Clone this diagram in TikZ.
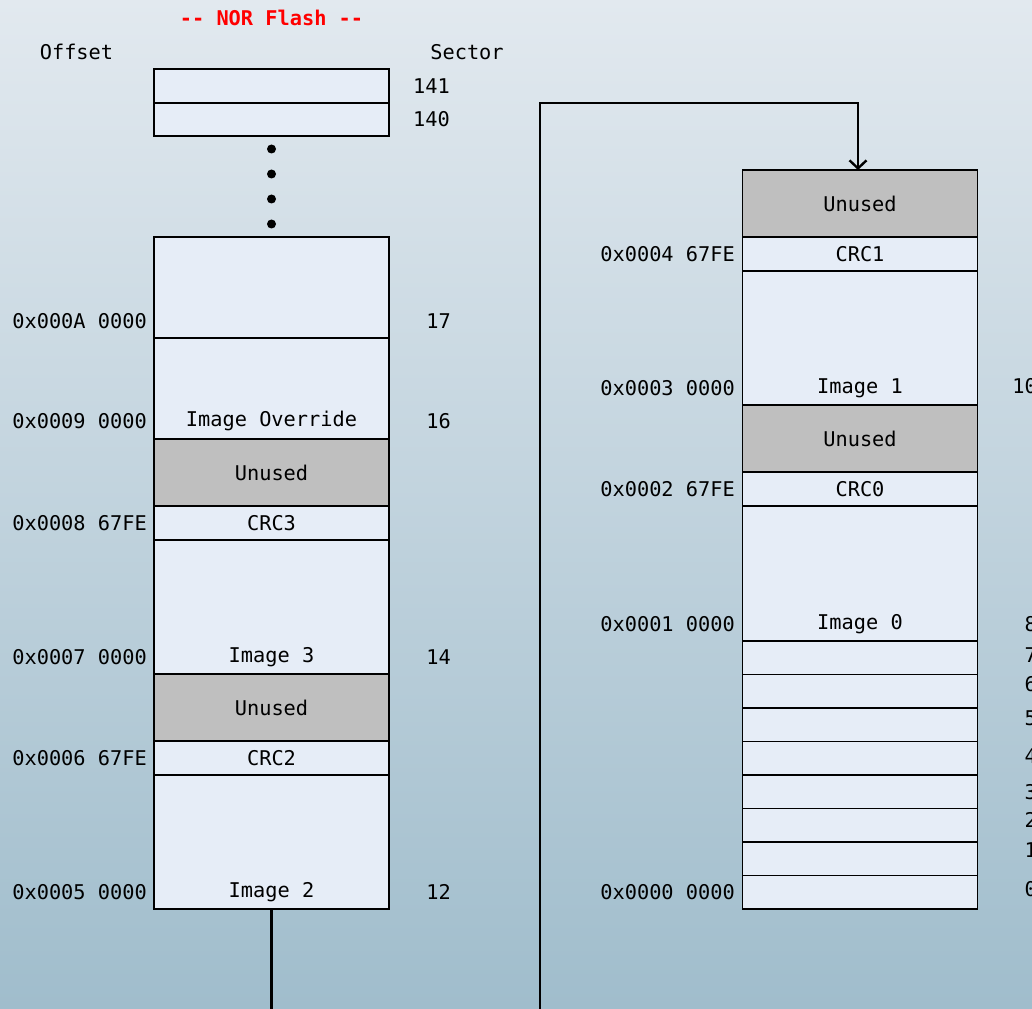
\documentclass[tikz,border=0pt]{standalone}
\usepackage{fontspec}
\newfontfamily\monofont{DejaVu Sans Mono}
\usetikzlibrary{arrows.meta}
\definecolor{bgtop}{RGB}{226,233,239}
\definecolor{bgbot}{RGB}{160,189,204}
\definecolor{cellfill}{RGB}{230,237,247}
\definecolor{unusedfill}{RGB}{191,191,191}
\definecolor{titlered}{RGB}{255,0,0}
\tikzset{
  txt/.style={font=\monofont\fontsize{20.3}{24}\selectfont, inner sep=0pt, text=black},
  cell/.style={draw=black, line width=1.6pt, fill=cellfill, inner sep=0pt, outer sep=0pt,
    minimum width=235pt, font=\monofont\fontsize{20.3}{24}\selectfont},
  unused/.style={cell, fill=unusedfill},
  offs/.style={txt, anchor=east},
  sect/.style={txt, anchor=east},
  conn/.style={draw=black, line width=2.6pt},
  dot/.style={circle, fill=black, inner sep=0pt, minimum size=9pt}
}
\begin{document}
\begin{tikzpicture}[x=1pt,y=-1pt]
\shade[top color=bgtop, bottom color=bgbot] (0,0) rectangle (1032,1008);
\useasboundingbox (0,0) rectangle (1032,1008);

% headers
\node[txt, text=titlered, font=\monofont\bfseries\fontsize{20.3}{24}\selectfont] (title) at (271.5,18) {-- NOR Flash --};
\node[txt] (hoff) at (76.5,52) {Offset};
\node[txt] (hsec) at (467,52) {Sector};

% left column
\node[cell, minimum height=34pt] (l141) at (271.5,86) {};
\node[cell, minimum height=33pt] (l140) at (271.5,119.5) {};
\node[dot] (d1) at (271.5,149) {};
\node[dot] (d2) at (271.5,174) {};
\node[dot] (d3) at (271.5,199) {};
\node[dot] (d4) at (271.5,224) {};
\node[cell, minimum height=101pt] (l17) at (271.5,287.5) {};
\node[cell, minimum height=101pt] (l16) at (271.5,388.5) {};
\node[unused, minimum height=67pt] (lu3) at (271.5,472.5) {Unused};
\node[cell, minimum height=34pt] (lcrc3) at (271.5,523) {CRC3};
\node[cell, minimum height=134pt] (limg3) at (271.5,607) {};
\node[unused, minimum height=67pt] (lu2) at (271.5,707.5) {Unused};
\node[cell, minimum height=34pt] (lcrc2) at (271.5,758) {CRC2};
\node[cell, minimum height=134pt] (limg2) at (271.5,842) {};
\node[txt] (tover) at (271.5,421) {Image Override};
\node[txt] (timg3) at (271.5,657) {Image 3};
\node[txt] (timg2) at (271.5,892) {Image 2};

% left offsets
\node[offs] (o0A) at (147,321) {0x000A 0000};
\node[offs] (o09) at (147,421) {0x0009 0000};
\node[offs] (o08) at (147,523) {0x0008 67FE};
\node[offs] (o07) at (147,657) {0x0007 0000};
\node[offs] (o06) at (147,758) {0x0006 67FE};
\node[offs] (o05) at (147,892) {0x0005 0000};

% left sectors
\node[sect] (s141) at (450,86) {141};
\node[sect] (s140) at (450,119) {140};
\node[sect] (s17) at (451,321) {17};
\node[sect] (s16) at (451,421) {16};
\node[sect] (s14) at (451,657) {14};
\node[sect] (s12) at (451,892) {12};

% right column
\node[unused, minimum height=67pt] (ru1) at (860,203.5) {Unused};
\node[cell, minimum height=34pt] (rcrc1) at (860,254) {CRC1};
\node[cell, minimum height=134pt] (rimg1) at (860,338) {};
\node[unused, minimum height=67pt] (ru0) at (860,438.5) {Unused};
\node[cell, minimum height=34pt] (rcrc0) at (860,489) {CRC0};
\node[cell, minimum height=135pt] (rimg0) at (860,573.5) {};
\foreach \i/\y in {7/657.75,6/691.25,5/724.75,4/758.25,3/791.75,2/825.25,1/858.75,0/892.25}{
  \node[cell, minimum height=33.5pt] (rs\i) at (860,\y) {};
}
\node[txt] (timg1) at (860,388) {Image 1};
\node[txt] (timg0) at (860,624) {Image 0};

% right offsets
\node[offs] (o04) at (735,254) {0x0004 67FE};
\node[offs] (o03) at (735,388) {0x0003 0000};
\node[offs] (o02) at (735,489) {0x0002 67FE};
\node[offs] (o01) at (735,624) {0x0001 0000};
\node[offs] (o00) at (735,892) {0x0000 0000};

% right sectors (clipped at the right edge)
\begin{scope}
\clip (0,0) rectangle (1032,1008);
\node[sect] (s10) at (1037,386) {10};
\node[sect] (s8) at (1037,624) {8};
\node[sect] (s7) at (1037,655) {7};
\node[sect] (s6) at (1037,684) {6};
\node[sect] (s5) at (1037,718) {5};
\node[sect] (s4) at (1037,756) {4};
\node[sect] (s3) at (1037,792) {3};
\node[sect] (s2) at (1037,820) {2};
\node[sect] (s1) at (1037,850) {1};
\node[sect] (s0) at (1037,889) {0};

% connector
\coordinate (turnL) at (271.5,1030);
\coordinate (turnR) at (540,1030);
\coordinate (topL) at (540,103);
\coordinate (topR) at (858,103);
\draw[conn, -{Straight Barb[length=8pt,width=17pt,line width=2.4pt]}]
  (limg2.south -| timg2) -- (turnL) -- (turnR) -- (topL) -- (topR) -- (topR |- ru1.north);
\end{scope}
\end{tikzpicture}
\end{document}
